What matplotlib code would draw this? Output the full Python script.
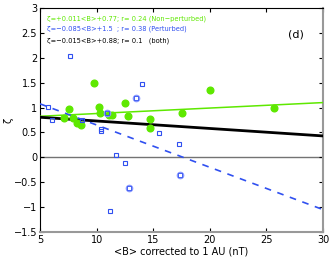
import matplotlib
matplotlib.use('Agg')
import matplotlib.pyplot as plt

# non-perturbed events (filled green)
b_np = [7.1, 7.6, 7.95, 8.25, 8.6, 9.8, 10.2, 10.3, 11.1, 11.4, 12.5, 12.8, 14.7, 14.7, 17.5, 20.0, 25.7]
z_np = [0.79, 0.97, 0.80, 0.68, 0.64, 1.49, 1.02, 0.89, 0.85, 0.86, 1.10, 0.84, 0.77, 0.58, 0.89, 1.35, 1.0]

# perturbed events (open blue squares)
b_p = [5.7, 6.1, 7.65, 8.7, 10.4, 10.4, 11.7, 12.5, 11.2, 14.0, 15.5, 17.25]
z_p = [1.01, 0.75, 2.04, 0.76, 0.56, 0.52, 0.05, -0.11, -1.07, 1.47, 0.49, 0.26]
# perturbed events drawn with circles
b_pc = [10.95, 13.5, 12.9, 17.4]
z_pc = [0.90, 1.19, -0.62, -0.36]

# linear fits: slope, intercept
fit_np = (0.011, 0.77)
fit_p = (-0.085, 1.5)
fit_all = (-0.015, 0.88)
xfit = [5, 30]

green = '#5ee800'
blue = '#3050f0'

fig = plt.figure(figsize=(3.32, 2.58), dpi=100)
ax = fig.add_axes([40/332, 1 - 232/258, 283/332, 224/258])

ax.axhline(0, color='0.45', lw=1, zorder=1)
ax.plot(xfit, [fit_np[0]*x + fit_np[1] for x in xfit], color=green, lw=1.1, zorder=3)
ax.plot(xfit, [fit_all[0]*x + fit_all[1] for x in xfit], color='black', lw=2, zorder=3)
ax.plot(xfit, [fit_p[0]*x + fit_p[1] for x in xfit], color=blue, lw=1.2, ls=(0, (4, 4)), zorder=3)

ax.plot(b_np, z_np, 'o', color=green, ms=4.8, zorder=4)
ax.plot(b_p, z_p, 's', mfc='none', mec=blue, mew=0.8, ms=3.2, zorder=5)
ax.plot(b_pc, z_pc, 'o', mfc='none', mec='#8898ff', mew=1.0, ms=4.5, zorder=5)
ax.plot(b_pc, z_pc, 's', mfc='none', mec=blue, mew=0.6, ms=2.2, zorder=5)

ax.set_xlim(5, 30)
ax.set_ylim(-1.5, 3)
ax.set_xticks([5, 10, 15, 20, 25, 30])
ax.set_yticks([-1.5, -1, -0.5, 0, 0.5, 1, 1.5, 2, 2.5, 3])
ax.set_yticklabels(['\u22121.5', '\u22121', '\u22120.5', '0', '0.5', '1', '1.5', '2', '2.5', '3'])
ax.tick_params(direction='in', top=True, right=True, labelsize=7, length=3, pad=2)
for s in ['right', 'bottom']:
    ax.spines[s].set_color('0.6')
    ax.spines[s].set_linewidth(1.5)

ax.set_xlabel('<B> corrected to 1 AU (nT)', fontsize=7, labelpad=1)
ax.set_ylabel('\u03b6', fontsize=7)
ax.yaxis.set_label_coords(-0.092, 0.5)

kw = dict(fontsize=5.3, stretch='condensed', transform=ax.transAxes)
ax.text(0.025, 0.945, '\u03b6=+0.011<B>+0.77; r= 0.24 (Non\u2212perturbed)', color=green, **kw)
ax.text(0.025, 0.9, '\u03b6=\u22120.085<B>+1.5  ; r= 0.38 (Perturbed)', color=blue, **kw)
ax.text(0.025, 0.847, '\u03b6=\u22120.015<B>+0.88; r= 0.1   (both)', color='black', **kw)
ax.text(0.905, 0.87, '(d)', fontsize=8, transform=ax.transAxes, ha='center')

fig.savefig('out.png', dpi=100)
